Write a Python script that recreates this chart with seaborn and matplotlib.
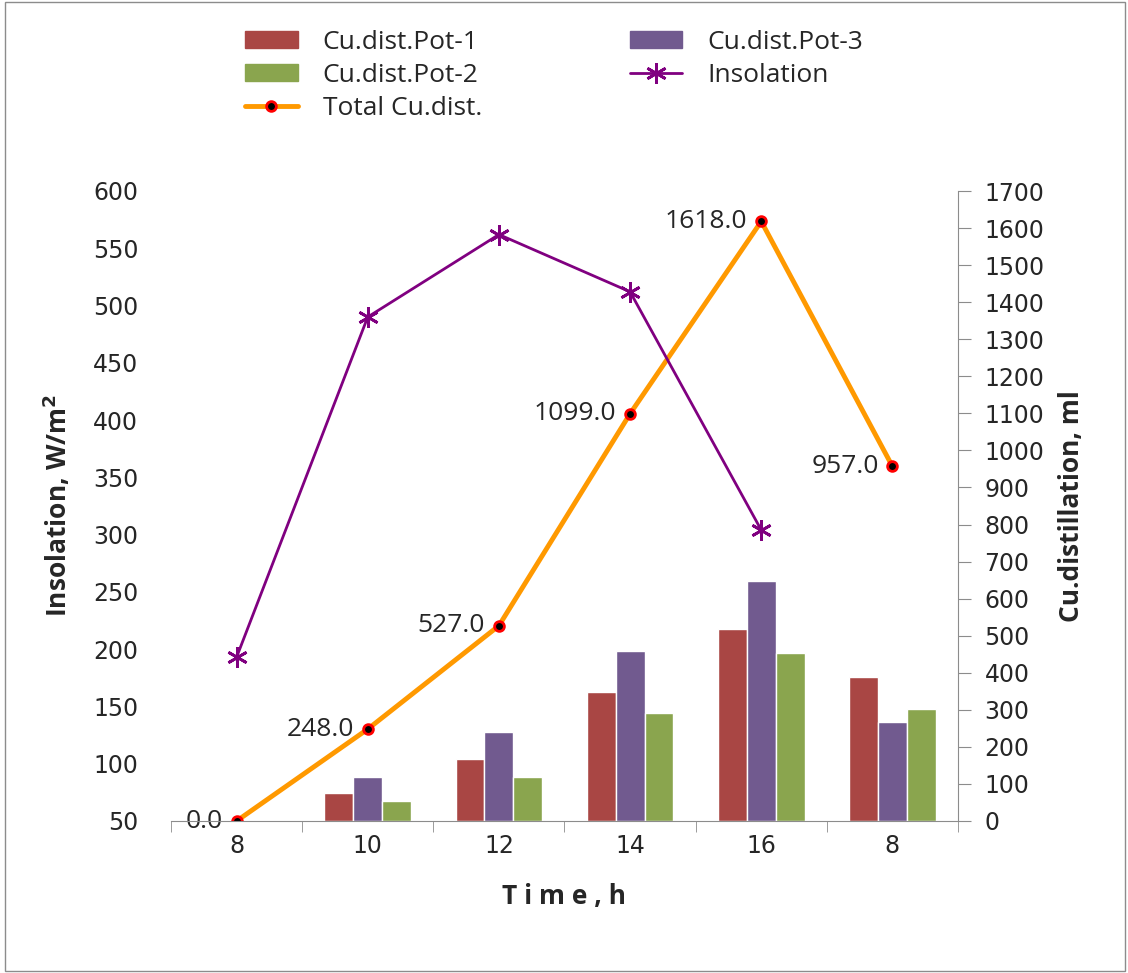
import numpy as np
import pandas as pd
import matplotlib
matplotlib.use("Agg")
import matplotlib.pyplot as plt
import seaborn as sns
from matplotlib.patches import Patch, Rectangle
from matplotlib.lines import Line2D

# data
hours = ["8", "10", "12", "14", "16", "8"]
pot1 = [0, 75, 167, 347, 518, 388]
pot3 = [0, 120, 240, 460, 647, 268]
pot2 = [0, 53, 120, 292, 453, 301]
total = [0.0, 248.0, 527.0, 1099.0, 1618.0, 957.0]
insolation = [193, 490, 562, 512, 304, np.nan]

slots = list(range(len(hours)))
pot_names = ["Cu.dist.Pot-1", "Cu.dist.Pot-3", "Cu.dist.Pot-2"]
pot_colors = ["#A94644", "#715A8F", "#8AA54E"]

bars = pd.DataFrame({
    "slot": slots * 3,
    "ml": pot1 + pot3 + pot2,
    "pot": [pot_names[0]] * 6 + [pot_names[1]] * 6 + [pot_names[2]] * 6,
})

sns.set_style("white")
plt.rcParams["font.family"] = ["DejaVu Sans"]

W, H = 1128, 973
fig = plt.figure(figsize=(W / 100, H / 100), dpi=100)
ax = fig.add_axes([171 / W, 1 - 821 / H, (958 - 171) / W, (821 - 191) / H])
ax2 = ax.twinx()

# bars on the right axis
sns.barplot(data=bars, x="slot", y="ml", hue="pot", hue_order=pot_names,
            palette=pot_colors, width=0.66, saturation=1, ax=ax2, legend=False)

# total distillate line on the right axis
sns.lineplot(x=slots, y=total, ax=ax2, color="#FF9900", lw=3.5, marker="o",
             markersize=7, markerfacecolor="black", markeredgecolor="red",
             markeredgewidth=2, zorder=5)
for xi, v in zip(slots, total):
    ax2.annotate(f"{v:.1f}", (xi, v), xytext=(-10, 0), textcoords="offset points",
                 ha="right", va="center", fontsize=19, family="Open Sans")

# insolation on the left axis, drawn above the bars
ax.set_zorder(ax2.get_zorder() + 1)
ax.patch.set_visible(False)
sns.lineplot(x=slots, y=insolation, ax=ax, color="#800080", lw=2,
             marker=(6, 2, 0), markersize=15, markeredgecolor="#800080",
             markeredgewidth=2)

ax.set_xlim(-0.5, 5.5)
ax.set_ylim(50, 600)
ax.set_yticks(np.arange(50, 601, 50))
ax2.set_ylim(0, 1700)
ax2.set_yticks(np.arange(0, 1701, 100))

ax.set_xticks(slots)
ax.set_xticklabels(hours)
ax.set_xticks(np.arange(-0.5, 5.6, 1), minor=True)
ax2.set_xlabel("")
ax2.tick_params(axis="x", which="both", bottom=False, labelbottom=False)

for a in (ax, ax2):
    for s in a.spines.values():
        s.set_visible(False)
ax2.spines["right"].set_visible(True)
ax2.spines["right"].set_color("#8C8C8C")
ax.spines["bottom"].set_visible(True)
ax.spines["bottom"].set_color("#8C8C8C")

ax.tick_params(axis="y", left=False, labelsize=17, pad=20)
ax.tick_params(axis="x", which="major", bottom=False, labelbottom=True,
               labelsize=17, pad=6)
ax.tick_params(axis="x", which="minor", bottom=True, length=8, color="#8C8C8C")
ax2.tick_params(axis="y", right=True, length=9, color="#8C8C8C",
                labelsize=17, pad=10)

ax.set_ylabel("Insolation, W/m$^\\mathbf{2}$", fontsize=19, fontweight="bold",
              family="Open Sans", labelpad=14)
ax2.set_ylabel("Cu.distillation, ml", fontsize=19, fontweight="bold",
               family="Open Sans", labelpad=10)
ax.set_xlabel("T i m e , h", fontsize=19, fontweight="bold",
              family="Open Sans", labelpad=18)

handles = [
    Patch(color=pot_colors[0], label=pot_names[0]),
    Patch(color=pot_colors[2], label=pot_names[2]),
    Line2D([], [], color="#FF9900", lw=3.5, marker="o", markersize=7,
           markerfacecolor="black", markeredgecolor="red", markeredgewidth=2,
           label="Total Cu.dist."),
    Patch(color=pot_colors[1], label=pot_names[1]),
    Line2D([], [], color="#800080", lw=2, marker=(6, 2, 0), markersize=15,
           markeredgewidth=2, label="Insolation"),
]
fig.legend(handles=handles, ncol=2, loc="upper left",
           bbox_to_anchor=(221 / W, 1 - 6 / H), frameon=False,
           prop={"family": "Open Sans", "size": 19}, handlelength=2.0,
           handleheight=0.6, columnspacing=5.6, labelspacing=0.3,
           handletextpad=0.95)

fig.add_artist(Rectangle((5 / W, 2 / H), 1 - 8 / W, 1 - 4 / H,
                         transform=fig.transFigure, fill=False,
                         edgecolor="#8C8C8C", lw=1))

fig.savefig("out.png", dpi=100)
